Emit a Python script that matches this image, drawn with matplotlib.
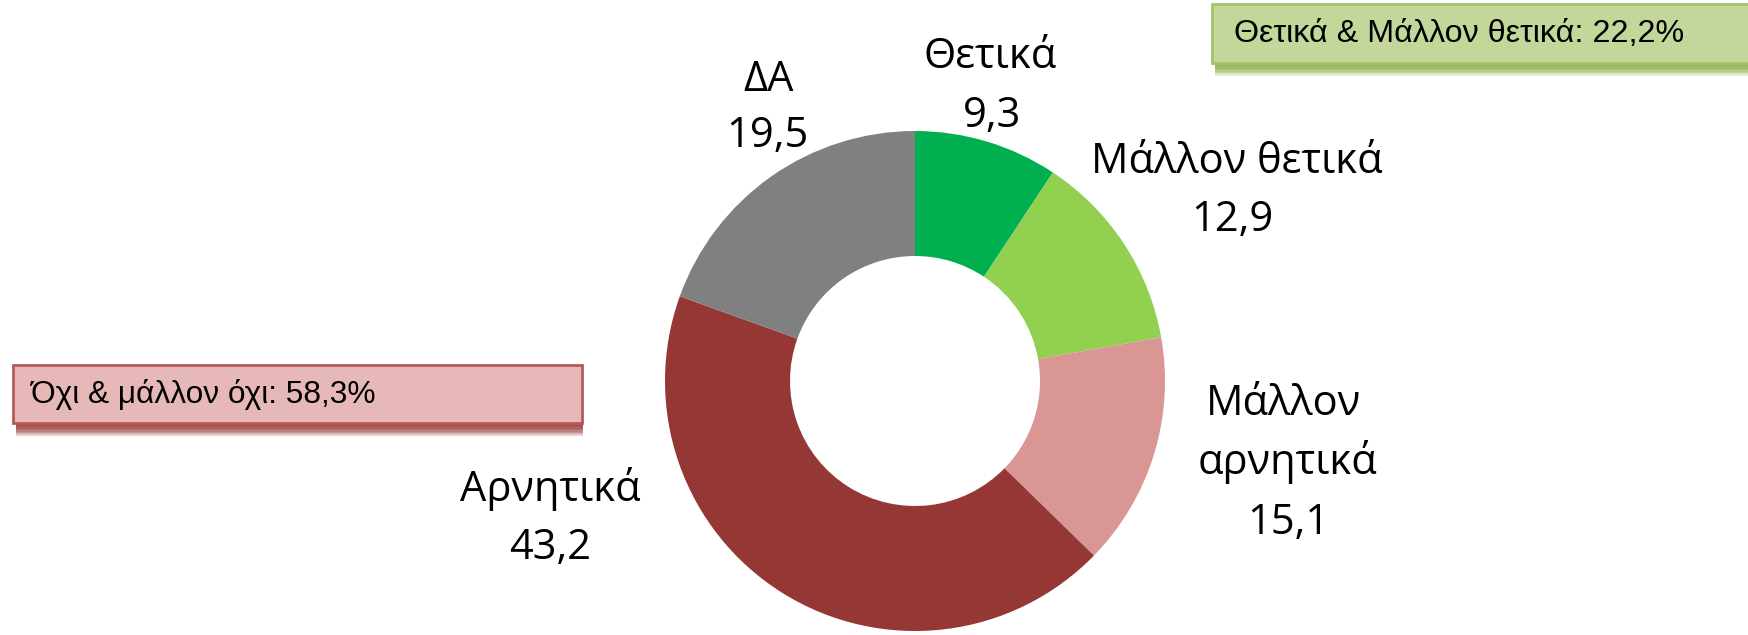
import matplotlib
matplotlib.use("Agg")
import matplotlib.pyplot as plt
from matplotlib.patches import Rectangle

# ---- data ----
categories = ["Θετικά", "Μάλλον θετικά", "Μάλλον αρνητικά", "Αρνητικά", "ΔΑ"]
values = [9.3, 12.9, 15.1, 43.2, 19.5]
label_lines = [["Θετικά"], ["Μάλλον θετικά"], ["Μάλλον", "αρνητικά"], ["Αρνητικά"], ["ΔΑ"]]
colors = ["#00B050", "#92D050", "#D99694", "#953735", "#808080"]
box_pos_text = "Θετικά & Μάλλον θετικά: 22,2%"
box_neg_text = "Όχι & μάλλον όχι: 58,3%"

W, H = 1748, 635
fig = plt.figure(figsize=(W / 100, H / 100), dpi=100)
fig.patch.set_facecolor("white")

# overlay axes in pixel coordinates (y downward)
ov = fig.add_axes([0, 0, 1, 1])
ov.set_xlim(0, W)
ov.set_ylim(H, 0)
ov.axis("off")

# donut axes
cx, cy, r = 915, 381, 250
pie_ax = fig.add_axes([(cx - r) / W, (H - cy - r) / H, 2 * r / W, 2 * r / H])
pie_ax.pie(values, colors=colors, startangle=90, counterclock=False,
           radius=1.0, wedgeprops=dict(width=0.5, edgecolor="none"))
pie_ax.set_xlim(-1, 1)
pie_ax.set_ylim(-1, 1)
pie_ax.axis("off")

label_font = ["Open Sans", "DejaVu Sans"]
box_font = ["Liberation Sans", "DejaVu Sans"]
fs = 30

# label positions (pixel centres of each line)
label_xy = [
    [(990, 57), (992, 116)],
    [(1237, 162), (1232, 220)],
    [(1284, 404), (1288, 462), (1288, 523)],
    [(550, 489), (550, 548)],
    [(769, 80), (767, 136)],
]
for lines, v, pos in zip(label_lines, values, label_xy):
    texts = lines + [f"{v:.1f}".replace(".", ",")]
    for t, (x, y) in zip(texts, pos):
        ov.text(x, y, t, ha="center", va="center", fontsize=fs,
                family=label_font, color="black")


def shadow_box(x0, y0, w, h, fc, ec, sc, text, tx, tfs):
    # soft shadow below
    n = 8
    for i in range(n):
        off = 3 + i * 1.4
        ov.add_patch(Rectangle((x0 + 3, y0 + off), w - 2, h, facecolor=sc,
                               edgecolor="none", alpha=0.22, zorder=1))
    ov.add_patch(Rectangle((x0, y0), w, h, facecolor=fc, edgecolor=ec,
                           linewidth=2, zorder=2))
    ov.text(tx, y0 + h / 2 + 1, text, ha="left", va="center", fontsize=tfs,
            family=box_font, color="black", zorder=3)


shadow_box(1212, 4, 540, 59, "#C4D79B", "#A6C36A", "#8AAE48", box_pos_text, 1234, 23.2)
shadow_box(13, 365, 569, 58, "#E6B9B8", "#B45A58", "#953735", box_neg_text, 31, 22.8)

fig.savefig("out.png", dpi=100, facecolor="white")
